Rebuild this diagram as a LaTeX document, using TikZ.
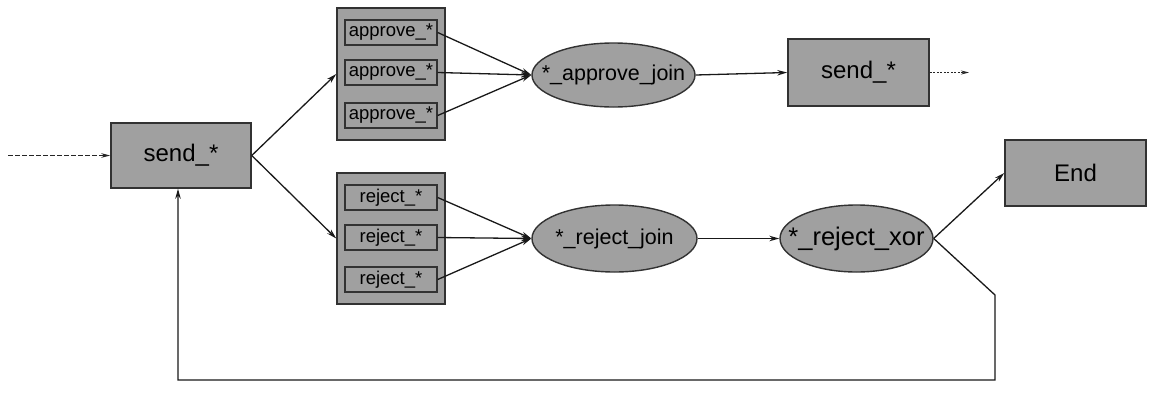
\documentclass[tikz,border=0pt]{standalone}
\usepackage{fontspec}
\setmainfont{Liberation Sans}
\usetikzlibrary{arrows.meta,shapes.geometric}
\definecolor{boxfill}{RGB}{160,160,160}
\definecolor{boxline}{RGB}{50,50,50}
\tikzset{
  box/.style={draw=boxline,fill=boxfill,line width=1.5pt,inner sep=0pt},
  sbox/.style={draw=boxline,fill=boxfill,line width=1.4pt,inner sep=0pt,minimum width=92pt,minimum height=25pt,font=\fontsize{18.5}{20}\selectfont},
  oval/.style={ellipse,draw=boxline,fill=boxfill,line width=1.4pt,inner sep=0pt},
  arr/.style={draw=black!90,line width=1.3pt,-{Stealth[length=10pt,width=5.5pt]}},
  dsh/.style={draw=black!85,line width=1.2pt,dashed,dash pattern=on 4.5pt off 2.5pt,-{Stealth[length=9pt,width=4.5pt]}},
}
\begin{document}
\begin{tikzpicture}[x=1pt,y=-1pt]
\useasboundingbox (0,0) rectangle (1154,410);
% main nodes
\node[box,minimum width=140pt,minimum height=65pt,font=\fontsize{24}{28}\selectfont] (s1) at (181,155.5) {send\_*};
\node[box,minimum width=108pt,minimum height=132pt] (ag) at (391,74) {};
\node[box,minimum width=108pt,minimum height=131pt] (rg) at (391,238.5) {};
\node[sbox] (a1) at (391,32.5) {approve\_*};
\node[sbox] (a2) at (391,72.5) {approve\_*};
\node[sbox] (a3) at (391,115.5) {approve\_*};
\node[sbox] (r1) at (391,197.5) {reject\_*};
\node[sbox] (r2) at (391,237.5) {reject\_*};
\node[sbox] (r3) at (391,279.5) {reject\_*};
\node[oval,minimum width=163pt,minimum height=64pt,label={[font=\fontsize{21.5}{24}\selectfont]center:*\_approve\_join}] (aj) at (613.5,75) {};
\node[oval,minimum width=165pt,minimum height=67pt,label={[font=\fontsize{21.5}{24}\selectfont]center:*\_reject\_join}] (rj) at (614.5,238.5) {};
\node[oval,minimum width=153pt,minimum height=67pt,label={[font=\fontsize{25.5}{28}\selectfont]center:*\_reject\_xor}] (rx) at (856.5,238.5) {};
\node[box,minimum width=141pt,minimum height=67pt,font=\fontsize{24}{28}\selectfont] (s2) at (858.5,72.5) {send\_*};
\node[box,minimum width=141pt,minimum height=66pt,font=\fontsize{24}{28}\selectfont] (end) at (1075.5,173) {End};
% free ends
\coordinate (inL) at (8,155.5);
\coordinate (outR) at (969,72.5);
\coordinate (k1) at (995,295);
\coordinate (k2) at (995,380);
\coordinate (k3) at (178,380);
% edges
\draw[dsh] (inL) -- (s1.west);
\draw[dsh,dash pattern=on 2pt off 1.5pt,line width=0.9pt,-{Stealth[length=8pt,width=4pt]}] (s2.east) -- (outR);
\draw[arr] (s1.east) -- (ag.west);
\draw[arr] (s1.east) -- (rg.west);
\draw[arr] (a1.east) -- (aj.west);
\draw[arr] (a2.east) -- (aj.west);
\draw[arr] (a3.east) -- (aj.west);
\draw[arr] (r1.east) -- (rj.west);
\draw[arr] (r2.east) -- (rj.west);
\draw[arr] (r3.east) -- (rj.west);
\draw[arr] (aj.east) -- (s2.west);
\draw[arr] (rj.east) -- (rx.west);
\draw[arr] (rx.east) -- (end.west);
\draw[arr] (rx.east) -- (k1) -- (k2) -- (k3) -- (k3 |- s1.south);
\end{tikzpicture}
\end{document}
